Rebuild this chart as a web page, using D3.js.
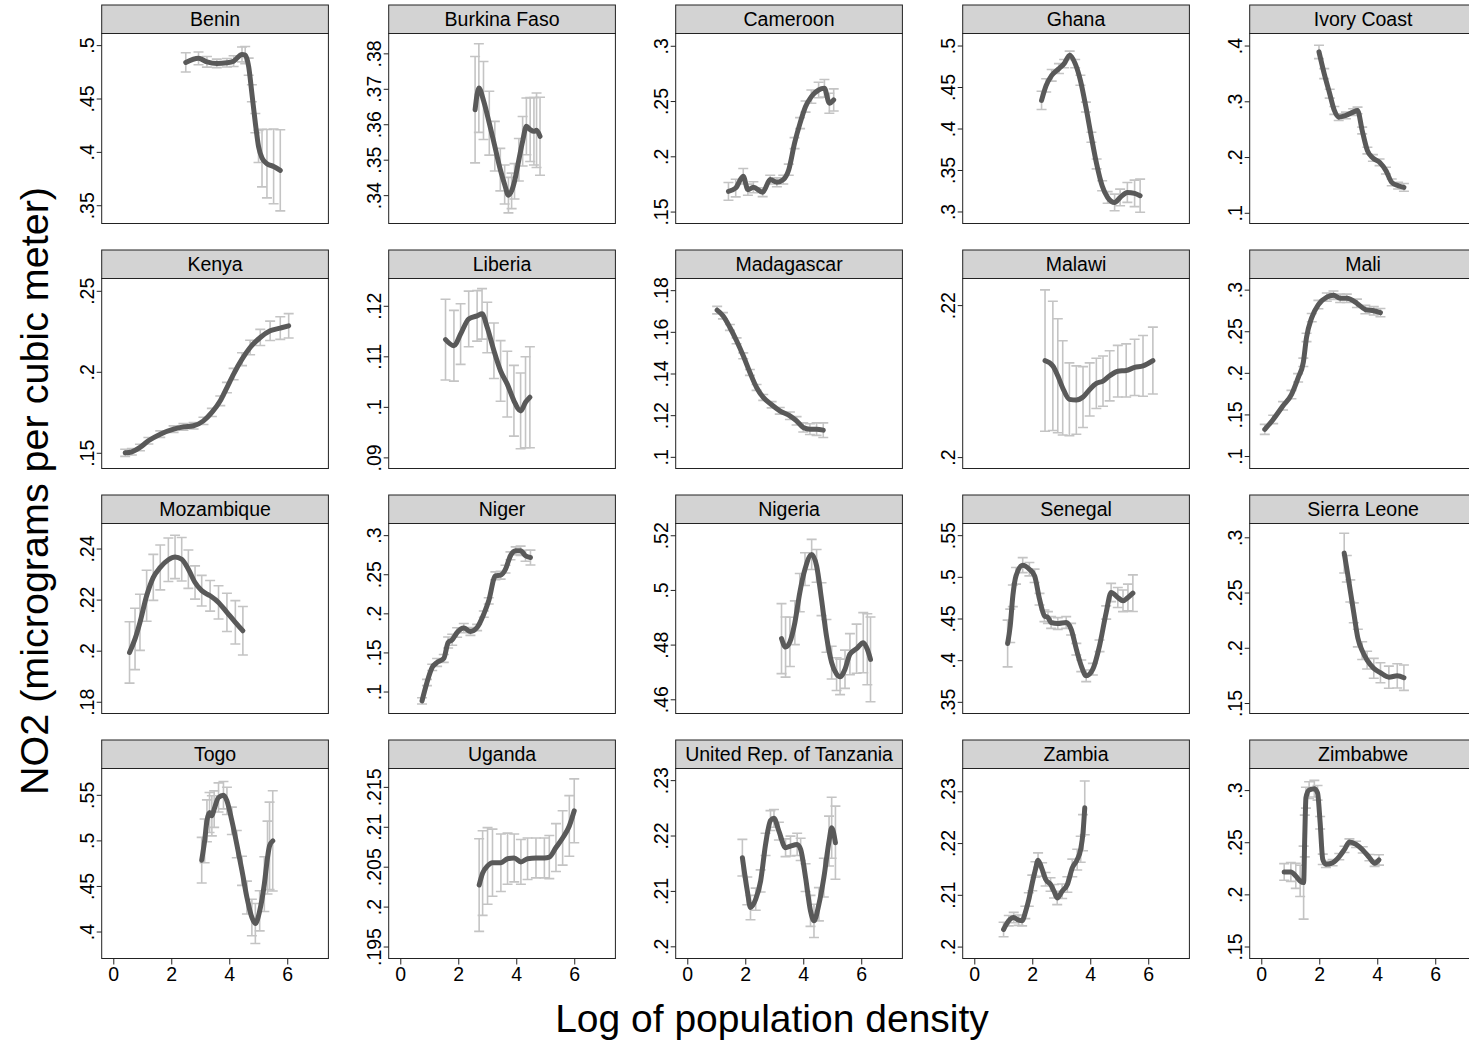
<!DOCTYPE html>
<html>
<head>
<meta charset="utf-8">
<script src="https://cdn.jsdelivr.net/npm/d3@7"></script>
<style>
  body { margin: 0; background: #fff; }
  svg { display: block; font-family: "Liberation Sans", Arial, sans-serif; }
</style>
</head>
<body>
<svg id="chart" width="1469" height="1042"></svg>
<script>
// panels in reading order
var countries = ["Benin", "Burkina Faso", "Cameroon", "Ghana", "Ivory Coast",
  "Kenya", "Liberia", "Madagascar", "Malawi", "Mali",
  "Mozambique", "Niger", "Nigeria", "Senegal", "Sierra Leone",
  "Togo", "Uganda", "United Rep. of Tanzania", "Zambia", "Zimbabwe"];

// y axis range and ticks per panel
var yBottom = [.3329, .332, .1392, .2855, .0808, .1403, .0878, .0944, .1985, .085,
  .1754, .0719, .4548, .336, .1405, .3704, .1935, .1978, .1977, .1385];
var yTop = [.5109, .3856, .3111, .5145, .4216, .2576, .1254, .1856, .2235, .3134,
  .2498, .3149, .5243, .564, .3125, .5789, .2173, .2321, .2344, .3207];
var yTicks = [
  [.35, .4, .45, .5], [.34, .35, .36, .37, .38], [.15, .2, .25, .3], [.3, .35, .4, .45, .5], [.1, .2, .3, .4],
  [.15, .2, .25], [.09, .1, .11, .12], [.1, .12, .14, .16, .18], [.2, .22], [.1, .15, .2, .25, .3],
  [.18, .2, .22, .24], [.1, .15, .2, .25, .3], [.46, .48, .5, .52], [.35, .4, .45, .5, .55], [.15, .2, .25, .3],
  [.4, .45, .5, .55], [.195, .2, .205, .21, .215], [.2, .21, .22, .23], [.2, .21, .22, .23], [.15, .2, .25, .3]
];
var xTicks = [0, 2, 4, 6];

// lpoly fit: x = log density, y = NO2, ci = half width of 95% band
var benin_x = [2.5, 2.94, 3.23, 3.57, 3.92, 4.15, 4.44, 4.55, 4.67, 4.78, 4.9, 5.01, 5.13, 5.3, 5.53, 5.76];
var benin_y = [.4838, .4876, .4844, .4829, .4835, .485, .4913, .4907, .4798, .4549, .4269, .4051, .3942, .3889, .3864, .3827];
var benin_ci = [.009, .006, .005, .004, .004, .005, .007, .008, .008, .008, .009, .015, .027, .032, .035, .038];

var burkina_x = [2.58, 2.71, 2.87, 3.07, 3.26, 3.45, 3.6, 3.73, 3.84, 3.94, 4.09, 4.22, 4.35, 4.48, 4.61, 4.7, 4.82];
var burkina_y = [.3641, .3702, .3667, .3603, .3538, .3472, .343, .34, .3412, .3439, .35, .3552, .3594, .3585, .358, .3583, .3566];
var burkina_ci = [.015, .0125, .011, .009, .007, .006, .0055, .005, .005, .005, .006, .007, .008, .009, .0095, .0105, .011];

var cameroon_x = [1.42, 1.67, 1.93, 2.09, 2.28, 2.6, 2.86, 3.09, 3.31, 3.5, 3.7, 3.89, 4.08, 4.28, 4.53, 4.73, 4.9, 5.05];
var cameroon_y = [.1683, .1713, .1819, .1698, .172, .1675, .1789, .1765, .1789, .1879, .2119, .23, .245, .254, .26, .2615, .248, .251];
var cameroon_ci = [.008, .008, .007, .005, .005, .004, .004, .004, .004, .005, .005, .005, .005, .006, .007, .008, .009, .01];

var ghana_x = [2.32, 2.48, 2.67, 2.92, 3.1, 3.29, 3.48, 3.66, 3.85, 4.04, 4.22, 4.41, 4.6, 4.84, 5.03, 5.28, 5.53, 5.72];
var ghana_y = [.4339, .452, .4641, .4722, .4782, .4883, .4782, .4581, .4258, .3895, .3573, .331, .3169, .3109, .3169, .323, .3218, .319];
var ghana_ci = [.011, .008, .007, .006, .005, .005, .005, .006, .006, .006, .006, .006, .007, .01, .01, .012, .016, .02];

var ivory_x = [1.99, 2.17, 2.36, 2.52, 2.67, 2.92, 3.17, 3.32, 3.48, 3.66, 3.85, 4.08, 4.3, 4.5, 4.72, 4.92];
var ivory_y = [.3886, .3496, .3136, .2836, .2716, .2746, .2806, .2836, .2476, .2116, .1984, .1906, .1756, .1546, .1486, .1456];
var ivory_ci = [.012, .009, .008, .007, .006, .006, .006, .006, .006, .006, .006, .006, .006, .006, .006, .007];

var kenya_x = [0.41, 0.64, 0.92, 1.21, 1.62, 2.08, 2.42, 2.77, 3.11, 3.4, 3.69, 3.92, 4.15, 4.44, 4.72, 5.07, 5.41, 5.76, 6.05];
var kenya_y = [.15, .1506, .1533, .1574, .1615, .1646, .166, .1667, .1697, .1749, .1821, .1903, .1986, .2078, .215, .2212, .2253, .227, .2284];
var kenya_ci = [.0022, .002, .002, .002, .002, .002, .002, .002, .0022, .0025, .003, .0032, .0035, .004, .0045, .005, .006, .007, .0075];

var liberia_x = [1.56, 1.85, 2.08, 2.36, 2.65, 2.82, 3.0, 3.23, 3.46, 3.69, 3.92, 4.15, 4.32, 4.47];
var liberia_y = [.1133, .1121, .1144, .1174, .118, .1184, .1157, .1111, .1071, .1045, .1012, .0992, .1009, .1019];
var liberia_ci = [.008, .007, .006, .0055, .005, .005, .005, .0055, .006, .0065, .007, .0075, .009, .01];

var madagascar_x = [1.03, 1.23, 1.47, 1.7, 1.93, 2.16, 2.39, 2.62, 2.91, 3.19, 3.54, 3.77, 4.0, 4.23, 4.46, 4.69];
var madagascar_y = [.1704, .1677, .1621, .1557, .1485, .1405, .1333, .1285, .125, .1221, .1197, .1173, .1141, .1133, .1133, .1128];
var madagascar_ci = [.0018, .0015, .0014, .0014, .0014, .0014, .0014, .0014, .0015, .0016, .0018, .002, .0022, .0026, .003, .0035];

var malawi_x = [2.44, 2.71, 2.88, 3.05, 3.28, 3.52, 3.75, 3.98, 4.21, 4.44, 4.67, 4.95, 5.24, 5.53, 5.82, 6.16];
var malawi_y = [.2127, .212, .2107, .2091, .2076, .2075, .2079, .2089, .2097, .21, .2107, .2113, .2114, .2118, .212, .2127];
var malawi_ci = [.0093, .0085, .0075, .0062, .0048, .0045, .004, .0035, .0033, .0033, .0033, .0034, .0035, .0037, .004, .0044];

var mali_x = [0.12, 0.41, 0.75, 1.04, 1.27, 1.45, 1.56, 1.74, 1.97, 2.26, 2.49, 2.72, 2.95, 3.3, 3.59, 3.88, 4.11];
var mali_y = [.132, .144, .1604, .1739, .194, .2127, .2425, .2664, .2821, .291, .2933, .2896, .2896, .2836, .2761, .2746, .2724];
var mali_ci = [.006, .005, .005, .005, .005, .005, .005, .005, .005, .005, .005, .005, .005, .005, .005, .005, .005];

var mozambique_x = [0.56, 0.75, 0.92, 1.15, 1.38, 1.62, 1.9, 2.13, 2.36, 2.59, 2.82, 3.05, 3.34, 3.63, 3.92, 4.21, 4.47];
var mozambique_y = [.1993, .2046, .2111, .2215, .2287, .2326, .2356, .2367, .2358, .2319, .2267, .2235, .2215, .2189, .215, .2111, .2078];
var mozambique_ci = [.012, .012, .011, .01, .009, .0088, .0085, .0085, .0085, .0075, .0065, .006, .006, .0065, .0075, .0085, .0095];

var niger_x = [0.75, 0.92, 1.1, 1.27, 1.5, 1.65, 1.79, 1.96, 2.19, 2.42, 2.65, 2.88, 3.05, 3.28, 3.46, 3.63, 3.8, 3.98, 4.15, 4.32, 4.49];
var niger_y = [.0881, .1116, .1308, .1372, .1423, .1627, .1662, .1755, .1811, .1768, .1819, .199, .216, .248, .2488, .2565, .2736, .28, .28, .2736, .2714];
var niger_ci = [.004, .004, .004, .005, .005, .007, .007, .006, .006, .005, .004, .004, .004, .005, .005, .005, .005, .005, .006, .007, .0095];

var nigeria_x = [3.25, 3.39, 3.54, 3.71, 3.88, 4.06, 4.29, 4.46, 4.63, 4.8, 4.98, 5.15, 5.27, 5.44, 5.61, 5.84, 6.07, 6.21, 6.32];
var nigeria_y = [.4822, .4791, .481, .488, .499, .5076, .513, .5088, .4966, .4832, .4734, .4692, .4682, .471, .4765, .4785, .4807, .4783, .4746];
var nigeria_ci = [.0128, .011, .009, .008, .007, .006, .0055, .006, .006, .006, .006, .006, .0065, .007, .0075, .009, .011, .013, .0155];

var senegal_x = [1.15, 1.24, 1.33, 1.44, 1.67, 1.9, 2.08, 2.25, 2.42, 2.54, 2.65, 2.88, 3.17, 3.34, 3.52, 3.69, 3.86, 4.09, 4.32, 4.55, 4.72, 4.95, 5.13, 5.3, 5.47];
var senegal_y = [.42, .4412, .4772, .5012, .514, .5092, .5012, .4732, .4532, .4512, .4452, .444, .4452, .4372, .4132, .3932, .3812, .3892, .4172, .4572, .4812, .4752, .4712, .4752, .4804];
var senegal_ci = [.028, .02, .013, .01, .009, .008, .008, .007, .007, .007, .007, .007, .007, .007, .007, .007, .007, .007, .007, .008, .011, .012, .013, .016, .022];

var sierra_x = [2.86, 2.95, 3.07, 3.19, 3.33, 3.48, 3.65, 3.88, 4.11, 4.4, 4.69, 4.92];
var sierra_y = [.2857, .2715, .2515, .2316, .2088, .1974, .1888, .1814, .1774, .1734, .1746, .1729];
var sierra_ci = [.018, .012, .01, .009, .008, .008, .008, .009, .009, .01, .011, .0115];

var togo_x = [3.05, 3.15, 3.23, 3.32, 3.4, 3.48, 3.63, 3.8, 3.92, 4.09, 4.26, 4.44, 4.61, 4.78, 4.9, 5.05, 5.21, 5.32, 5.39, 5.5];
var togo_y = [.4783, .4995, .5215, .5306, .527, .5343, .5471, .5496, .5434, .5215, .4959, .4666, .4373, .4154, .4088, .4227, .452, .4812, .494, .4995];
var togo_ci = [.025, .024, .023, .022, .022, .02, .016, .015, .015, .015, .015, .016, .018, .02, .022, .022, .03, .04, .048, .055];

var uganda_x = [2.72, 2.84, 3.01, 3.18, 3.47, 3.7, 3.93, 4.16, 4.39, 4.68, 4.97, 5.14, 5.37, 5.6, 5.83, 6.0];
var uganda_y = [.2027, .2042, .2051, .2055, .2055, .206, .2061, .2056, .206, .2061, .2061, .2062, .2074, .2086, .2101, .212];
var uganda_ci = [.0058, .0053, .0048, .0042, .0036, .0032, .003, .0028, .0026, .0025, .0025, .0027, .003, .0034, .0038, .004];

var tanzania_x = [1.9, 2.07, 2.18, 2.36, 2.53, 2.7, 2.87, 2.99, 3.16, 3.39, 3.56, 3.79, 3.91, 4.08, 4.25, 4.37, 4.54, 4.71, 4.89, 4.98, 5.11];
var tanzania_y = [.216, .21, .207, .2085, .2118, .2184, .2227, .2231, .2208, .2178, .2181, .2184, .2175, .2124, .2064, .2046, .2076, .2124, .219, .2214, .2187];
var tanzania_ci = [.0033, .0025, .0022, .002, .002, .002, .0018, .0016, .0016, .0016, .0018, .002, .002, .0025, .0028, .003, .003, .0035, .0045, .0055, .0066];

var zambia_x = [1.01, 1.19, 1.36, 1.53, 1.65, 1.76, 1.88, 2.0, 2.11, 2.2, 2.34, 2.46, 2.63, 2.75, 2.86, 3.03, 3.21, 3.38, 3.55, 3.67, 3.75, 3.81];
var zambia_y = [.2033, .205, .2056, .2051, .205, .2066, .2091, .2123, .2149, .2167, .2149, .213, .212, .2107, .2094, .2107, .212, .2152, .2168, .2188, .222, .2268];
var zambia_ci = [.0014, .001, .001, .001, .001, .0012, .0013, .0015, .0015, .0014, .0013, .0013, .0013, .0013, .0013, .0014, .0015, .0017, .002, .0025, .0035, .0052];

var zimbabwe_x = [0.79, 1.02, 1.19, 1.34, 1.46, 1.5, 1.54, 1.65, 1.83, 1.94, 2.03, 2.12, 2.23, 2.46, 2.69, 2.87, 3.04, 3.27, 3.5, 3.73, 3.91, 4.06];
var zimbabwe_y = [.2215, .2215, .2177, .2129, .2113, .256, .2927, .3, .3013, .2974, .2687, .2336, .2288, .2304, .2362, .2432, .2502, .248, .2426, .2352, .2298, .233];
var zimbabwe_ci = [.008, .009, .012, .015, .035, .02, .01, .008, .008, .007, .006, .005, .003, .003, .003, .003, .003, .003, .003, .003, .003, .005];

var xs = [benin_x, burkina_x, cameroon_x, ghana_x, ivory_x, kenya_x, liberia_x, madagascar_x, malawi_x, mali_x,
  mozambique_x, niger_x, nigeria_x, senegal_x, sierra_x, togo_x, uganda_x, tanzania_x, zambia_x, zimbabwe_x];
var ys = [benin_y, burkina_y, cameroon_y, ghana_y, ivory_y, kenya_y, liberia_y, madagascar_y, malawi_y, mali_y,
  mozambique_y, niger_y, nigeria_y, senegal_y, sierra_y, togo_y, uganda_y, tanzania_y, zambia_y, zimbabwe_y];
var cis = [benin_ci, burkina_ci, cameroon_ci, ghana_ci, ivory_ci, kenya_ci, liberia_ci, madagascar_ci, malawi_ci, mali_ci,
  mozambique_ci, niger_ci, nigeria_ci, senegal_ci, sierra_ci, togo_ci, uganda_ci, tanzania_ci, zambia_ci, zimbabwe_ci];

var svg = d3.select("#chart"),
    plotW = 226.7,
    plotH = 190,
    stripH = 28.5,
    colStep = 287,
    rowStep = 245,
    left0 = 101.7,
    top0 = 5,
    tickFont = 19.5,
    lineColor = "#595959",
    ciColor = "#c4c4c4";

svg.append("rect").attr("width", 1469).attr("height", 1042).attr("fill", "#fff");

var x = d3.scaleLinear().domain([-0.4, 7.42]).range([0, plotW]);

function stataNum(v) {
    return String(+v.toFixed(4)).replace(/^0\./, ".");
}

countries.forEach(function(name, i) {
    var col = i % 5,
        row = Math.floor(i / 5),
        g = svg.append("g")
            .attr("transform", "translate(" + (left0 + col * colStep) + "," + (top0 + row * rowStep) + ")");

    // strip with country name
    g.append("rect")
        .attr("width", plotW).attr("height", stripH)
        .attr("fill", "#d3d3d3").attr("stroke", "#222").attr("stroke-width", 1);
    g.append("text")
        .attr("x", plotW / 2).attr("y", stripH / 2 + 7)
        .attr("text-anchor", "middle")
        .attr("font-size", 19.5)
        .text(name);

    var p = g.append("g").attr("transform", "translate(0," + stripH + ")");

    var y = d3.scaleLinear().domain([yBottom[i], yTop[i]]).range([plotH, 0]);

    var pts = xs[i].map(function(d, k) {
        return { x: d, y: ys[i][k], lo: ys[i][k] - cis[i][k], hi: ys[i][k] + cis[i][k] };
    });

    // y axis, labels turned like Stata
    var ya = p.append("g").call(d3.axisLeft(y).tickValues(yTicks[i]).tickSize(5).tickFormat(stataNum));
    ya.select(".domain").remove();
    ya.selectAll("line").attr("stroke", "#222");
    ya.selectAll("text")
        .attr("x", null).attr("dy", null)
        .attr("text-anchor", "middle")
        .attr("transform", "translate(-8,0) rotate(-90)")
        .attr("font-size", tickFont)
        .attr("font-family", "Liberation Sans, Arial, sans-serif")
        .attr("fill", "#000");

    if (row == 3) {
        var xa = p.append("g").attr("transform", "translate(0," + plotH + ")")
            .call(d3.axisBottom(x).tickValues(xTicks).tickSize(6));
        xa.select(".domain").remove();
        xa.selectAll("line").attr("stroke", "#222");
        xa.selectAll("text")
            .attr("y", 9)
            .attr("font-size", tickFont)
            .attr("font-family", "Liberation Sans, Arial, sans-serif")
            .attr("fill", "#000");
    }

    // confidence interval caps
    var bars = p.append("g").attr("stroke", ciColor).attr("stroke-width", 1.6).attr("fill", "none");
    bars.selectAll("path").data(pts).enter().append("path")
        .attr("d", function(d) {
            var cx = x(d.x), y0 = y(d.lo), y1 = y(d.hi);
            return "M" + (cx - 5) + "," + y1 + "H" + (cx + 5) +
                   "M" + cx + "," + y1 + "V" + y0 +
                   "M" + (cx - 5) + "," + y0 + "H" + (cx + 5);
        });

    // smoothed line
    p.append("path")
        .datum(pts)
        .attr("fill", "none")
        .attr("stroke", lineColor)
        .attr("stroke-width", 5)
        .attr("stroke-linejoin", "round")
        .attr("stroke-linecap", "round")
        .attr("d", d3.line()
            .curve(d3.curveMonotoneX)
            .x(function(d) { return x(d.x); })
            .y(function(d) { return y(d.y); }));

    // plot frame
    p.append("rect")
        .attr("width", plotW).attr("height", plotH)
        .attr("fill", "none").attr("stroke", "#222").attr("stroke-width", 1);
});

svg.append("text")
    .attr("x", 772).attr("y", 1032)
    .attr("text-anchor", "middle")
    .attr("font-size", 39)
    .text("Log of population density");

svg.append("text")
    .attr("transform", "translate(48,491) rotate(-90)")
    .attr("text-anchor", "middle")
    .attr("font-size", 39.5)
    .text("NO2 (micrograms per cubic meter)");
</script>
</body>
</html>
